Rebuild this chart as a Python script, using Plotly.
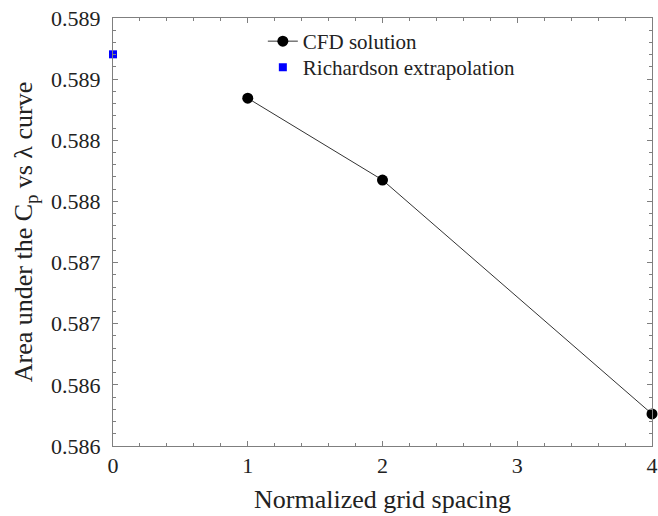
import plotly.graph_objects as go

# Data
cfd_x = [1, 2, 4]
cfd_y = [0.588844, 0.588175, 0.586262]
rich_x = [0]
rich_y = [0.589203]

x_ticks = [0, 1, 2, 3, 4]
y_tickvals = [0.5860, 0.5865, 0.5870, 0.5875, 0.5880, 0.5885, 0.5890, 0.5895]
y_ticktext = ["0.586", "0.586", "0.587", "0.587", "0.588", "0.588", "0.589", "0.589"]

font_family = "Liberation Serif"
text_color = "#222222"
axis_color = "#7f7f7f"

fig = go.Figure()
fig.add_trace(go.Scatter(
    x=cfd_x, y=cfd_y, mode="lines+markers", name="CFD solution",
    line=dict(color="#333333", width=1),
    marker=dict(color="black", size=11, symbol="circle"),
    cliponaxis=False, legend="legend",
))
fig.add_trace(go.Scatter(
    x=rich_x, y=rich_y, mode="markers", name="Richardson extrapolation",
    marker=dict(color="#0000ff", size=8, symbol="square"),
    cliponaxis=False, legend="legend2",
))

axis_common = dict(
    showline=True, linecolor=axis_color, linewidth=1, mirror="ticks",
    ticks="inside", ticklen=5, tickcolor=axis_color, tickwidth=1,
    showgrid=False, zeroline=False, automargin=False,
    tickfont=dict(family=font_family, size=22, color=text_color),
)

fig.update_xaxes(
    range=[0, 4], tickvals=x_ticks,
    minor=dict(ticks="inside", ticklen=3, tickcolor=axis_color, nticks=5, showgrid=False),
    title=dict(text="Normalized grid spacing", font=dict(family=font_family, size=26, color=text_color), standoff=12),
    **axis_common,
)
fig.update_yaxes(
    range=[0.58599999, 0.58950001], tickvals=y_tickvals, ticktext=y_ticktext,
    ticklabelstandoff=7,
    minor=dict(ticks="inside", ticklen=3, tickcolor=axis_color, dtick=0.0001, showgrid=False),
    title=dict(text="Area under the C<sub>p</sub> vs λ curve", font=dict(family=font_family, size=26, color=text_color), standoff=10),
    **axis_common,
)

legend_style = dict(
    xanchor="left", yanchor="top", bgcolor="rgba(0,0,0,0)",
    font=dict(family=font_family, size=21, color=text_color),
)
fig.update_layout(
    width=658, height=516,
    margin=dict(l=113, r=6, t=18, b=70),
    plot_bgcolor="white", paper_bgcolor="white",
    font=dict(family=font_family),
    showlegend=True,
    legend=dict(x=0.278, y=0.993, **legend_style),
    legend2=dict(x=0.278, y=0.932, **legend_style),
)

fig.write_html("out.html", config={"displayModeBar": False},
               post_script="document.body.style.margin='0';")
